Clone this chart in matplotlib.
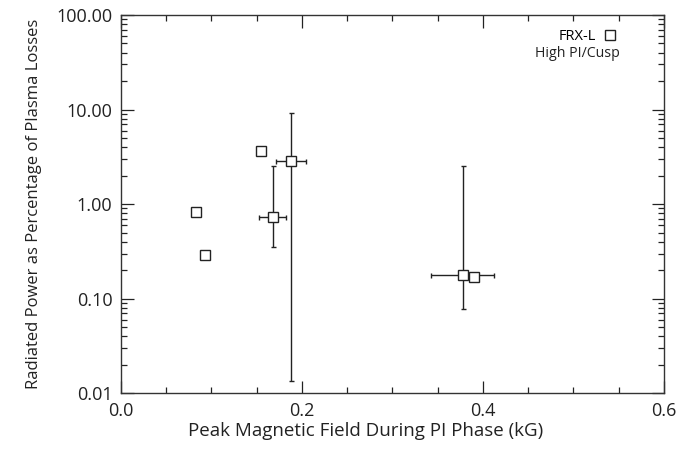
import numpy as np
import matplotlib
matplotlib.use("Agg")
import matplotlib.pyplot as plt
from matplotlib.ticker import MultipleLocator, FormatStrFormatter, LogLocator, NullFormatter

plt.rcParams["font.family"] = ["Open Sans", "DejaVu Sans"]

# FRX-L High PI/Cusp shots
field = [0.083, 0.0926, 0.1544, 0.1677, 0.188, 0.3776, 0.390]
power = [0.83, 0.288, 3.61, 0.74, 2.88, 0.18, 0.169]
# asymmetric y errors (lower, upper) and x errors; 0 = no bar
y_low = [0, 0, 0, 0.74 - 0.35, 2.88 - 0.0136, 0.18 - 0.078, 0]
y_high = [0, 0, 0, 2.53 - 0.74, 9.2 - 2.88, 2.53 - 0.18, 0]
x_err = [0, 0, 0, 0.015, 0.017, 0.0345, 0]

fig = plt.figure(figsize=(6.8, 4.51), dpi=100)
ax = fig.add_axes([0.1775, 0.128, 0.7990, 0.8387])

ax.errorbar(field, power, yerr=[y_low, y_high], xerr=x_err, fmt="none",
            ecolor="#222222", elinewidth=1.0, capsize=1.8, capthick=1.0)
ax.plot(field, power, ls="none", marker="s", ms=6.8, mfc="white",
        mec="#222222", mew=1.0, zorder=3)

ax.set_yscale("log")
ax.set_xlim(0, 0.6)
ax.set_ylim(0.01, 100)
ax.xaxis.set_major_locator(MultipleLocator(0.2))
ax.xaxis.set_minor_locator(MultipleLocator(0.05))
ax.xaxis.set_major_formatter(FormatStrFormatter("%.1f"))
ax.yaxis.set_major_locator(LogLocator(base=10, numticks=10))
ax.yaxis.set_minor_locator(LogLocator(base=10, subs=np.arange(2, 10), numticks=10))
ax.yaxis.set_major_formatter(FormatStrFormatter("%.2f"))
ax.yaxis.set_minor_formatter(NullFormatter())

ax.tick_params(which="both", direction="in", top=True, right=True,
               labelsize=13, colors="#222222", width=0.9)
ax.tick_params(which="major", length=9, pad=6)
ax.tick_params(which="minor", length=4.5)
for s in ax.spines.values():
    s.set_linewidth(1.0)
    s.set_color("#333333")

ax.set_xlabel("Peak Magnetic Field During PI Phase (kG)", fontsize=13.5,
              color="#222222", labelpad=2, x=0.45)
ax.set_ylabel("Radiated Power as Percentage of Plasma Losses", fontsize=12,
              color="#222222", labelpad=10)

# legend key, IDL style: label then symbol, subtitle underneath
ax.plot([], [], ls="none", marker="s", ms=6.8, mfc="white", mec="#222222",
        mew=1.0, label="FRX-L")
handles, labels = ax.get_legend_handles_labels()
ax.legend(handles[-1:], labels[-1:], loc="center right", bbox_to_anchor=(0.913, 0.944),
          frameon=False, markerfirst=False, fontsize=10.5, handlelength=0.9,
          handletextpad=0.5, borderpad=0, borderaxespad=0)
ax.text(0.919, 0.898, "High PI/Cusp", transform=ax.transAxes, ha="right",
        va="center", fontsize=10.2, color="#222222")

plt.savefig("out.png", dpi=100)
